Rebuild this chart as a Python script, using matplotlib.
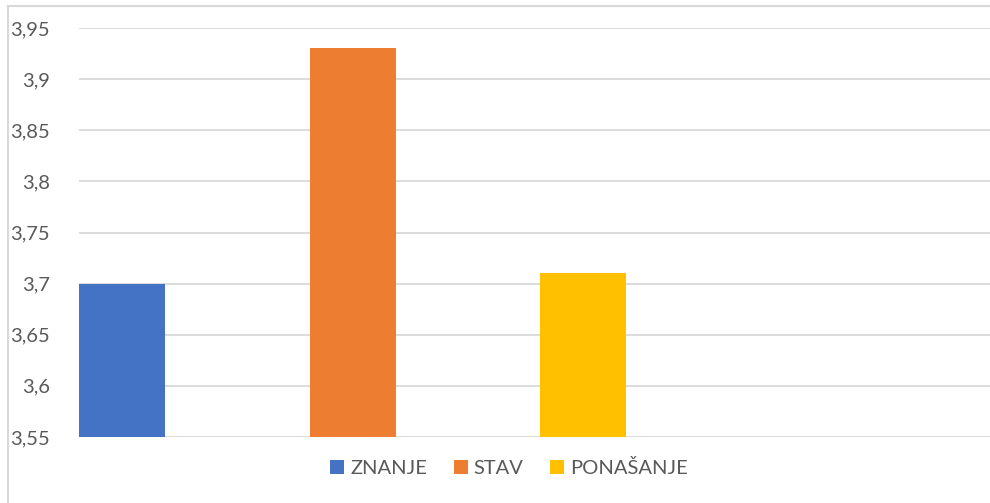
import matplotlib.pyplot as plt
from matplotlib.lines import Line2D
from matplotlib.patches import Patch

# data
categories = ['ZNANJE', 'STAV', 'PONAŠANJE']
values = [3.70, 3.93, 3.71]
colors = ['#4472C4', '#ED7D31', '#FFC000']
yticks = [3.55, 3.6, 3.65, 3.7, 3.75, 3.8, 3.85, 3.9, 3.95]

plt.rcParams['font.family'] = ['Lato', 'DejaVu Sans']
text_color = '#595959'
grid_color = '#D9D9D9'

fig = plt.figure(figsize=(9.9, 5.03), dpi=100)
ax = fig.add_axes([79 / 990, 66 / 503, 911 / 990, 409 / 503])

bar_w = 86 / 230.5
x = list(range(len(categories)))
ax.bar(x, values, width=bar_w, color=colors, zorder=3)

ax.set_ylim(3.55, 3.95)
ax.set_xlim(-bar_w / 2, -bar_w / 2 + 911 / 230.5)
ax.set_yticks(yticks)
ax.set_yticklabels([f'{v:g}'.replace('.', ',') for v in yticks],
                   fontsize=14.5, color=text_color)
ax.set_xticks([])
ax.tick_params(axis='y', length=0, pad=21)
ax.grid(axis='y', color=grid_color, linewidth=1.3, zorder=0)
for s in ax.spines.values():
    s.set_visible(False)

# legend below
handles = [Patch(facecolor=c, edgecolor='none') for c in colors]
leg = fig.legend(handles, categories, loc='center', bbox_to_anchor=(509 / 990, 1 - 468 / 503),
                 ncol=3, frameon=False, fontsize=14.5, handlelength=0.7, handleheight=0.7,
                 handletextpad=0.3, columnspacing=1.3)
for t in leg.get_texts():
    t.set_color(text_color)

# chart border (left and top visible)
fig.add_artist(Line2D([8 / 990, 8 / 990], [0, 1 - 6 / 503], transform=fig.transFigure,
                      color=grid_color, linewidth=1.5))
fig.add_artist(Line2D([8 / 990, 1], [1 - 6 / 503, 1 - 6 / 503], transform=fig.transFigure,
                      color=grid_color, linewidth=1.5))

fig.savefig('out.png', dpi=100)
